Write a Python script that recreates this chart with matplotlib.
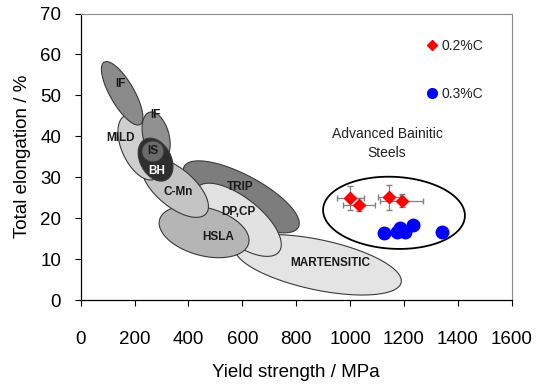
import numpy as np
import matplotlib
matplotlib.use('Agg')
import matplotlib.pyplot as plt
from matplotlib.patches import Polygon
from matplotlib.lines import Line2D

plt.rcParams['font.family'] = ['Liberation Sans', 'DejaVu Sans']

# steel property regions: centre (MPa, %), long/short axis (MPa-equivalent), tilt (deg)
region_names = ['MARTENSITIC', 'TRIP', 'DP,CP', 'HSLA', 'C-Mn', 'MILD', 'IF2', 'BH', 'IS', 'IF1']
region_cx = [881, 596, 584, 458, 350, 220, 280, 278, 268, 154]
region_cy = [8.6, 25.2, 19.6, 16.7, 27.5, 37.3, 40.0, 34.3, 36.3, 50.5]
region_len = [631, 480, 386, 342, 302, 260, 185, 170, 82, 267]
region_wid = [186, 163, 167, 178, 141, 134, 96, 115, 78, 89]
region_ang = [-12, -28, -38, -15, -40, -65, -75, -62, 0, -60]
region_col = ['#e4e4e4', '#7d7d7d', '#e2e2e2', '#b5b5b5', '#c4c4c4',
              '#cfcfcf', '#909090', '#2e2e2e', '#6a6a6a', '#8a8a8a']

# labels for regions
label_text = ['IF', 'IF', 'MILD', 'IS', 'BH', 'C-Mn', 'TRIP', 'DP,CP', 'HSLA', 'MARTENSITIC']
label_x = [146, 276, 146, 268, 283, 361, 591, 584, 510, 925]
label_y = [52.7, 45.1, 39.7, 36.3, 31.6, 26.5, 27.7, 21.6, 15.4, 9.1]
label_col = ['#1a1a1a'] * 4 + ['white'] + ['#1a1a1a'] * 5

# advanced bainitic steels
c02_ys = [1000, 1034, 1144, 1191]
c02_el = [24.9, 23.3, 25.1, 24.3]
c02_xerr = [50, 60, 40, 80]
c02_yerr = [3.0, 1.5, 3.1, 1.5]

c03_ys = [1126, 1173, 1185, 1204, 1235, 1340]
c03_el = [16.3, 16.7, 17.6, 16.7, 18.4, 16.5]
c03_xerr = [20, 20, 20, 20, 20, 15]
c03_yerr = [1.0, 1.0, 1.0, 1.0, 1.0, 0.8]

bainitic_cx, bainitic_cy = 1163, 21.3
bainitic_len, bainitic_wid, bainitic_ang = 527, 267, -3

# visual aspect: MPa per % on screen
k = (0.9494 - 0.1497) * 539 / 1600
k = ((0.9652 - 0.2268) * 388 / 70) / k


def ellipse_pts(cx, cy, L, W, ang):
    t = np.linspace(0, 2 * np.pi, 200)
    u = L / 2 * np.cos(t)
    v = W / 2 * np.sin(t)
    a = np.deg2rad(ang)
    dx = u * np.cos(a) - v * np.sin(a)
    dy = u * np.sin(a) + v * np.cos(a)
    return np.column_stack([cx + dx, cy + dy / k])


fig = plt.figure(figsize=(5.39, 3.88), dpi=100)
ax = fig.add_axes([0.1497, 0.2268, 0.7997, 0.7384])

for i in range(len(region_names)):
    pts = ellipse_pts(region_cx[i], region_cy[i], region_len[i], region_wid[i], region_ang[i])
    ax.add_patch(Polygon(pts, closed=True, facecolor=region_col[i],
                         edgecolor='#3a3a3a', linewidth=0.8, zorder=2 + i * 0.01))

for i in range(len(label_text)):
    ax.text(label_x[i], label_y[i], label_text[i], ha='center', va='center',
            fontsize=8.5, fontweight='bold', color=label_col[i], zorder=3)

pts = ellipse_pts(bainitic_cx, bainitic_cy, bainitic_len, bainitic_wid, bainitic_ang)
ax.add_patch(Polygon(pts, closed=True, facecolor='white', edgecolor='black',
                     linewidth=1.3, zorder=2))
ax.text(1137, 38.3, 'Advanced Bainitic\nSteels', ha='center', va='center',
        fontsize=10, color='#222222', linespacing=1.45, zorder=3)

ax.errorbar(c02_ys, c02_el, xerr=c02_xerr, yerr=c02_yerr, fmt='D', color='red',
            markersize=6.5, ecolor='#808080', elinewidth=0.9, capsize=2.5, zorder=4)
ax.errorbar(c03_ys, c03_el, xerr=c03_xerr, yerr=c03_yerr, fmt='o', color='blue',
            markersize=9, ecolor='#808080', elinewidth=0.9, capsize=2, zorder=4)

handles = [Line2D([], [], marker='D', color='red', linestyle='none', markersize=5.5),
           Line2D([], [], marker='o', color='blue', linestyle='none', markersize=7)]
ax.legend(handles, ['0.2%C', '0.3%C'], loc='upper left', bbox_to_anchor=(0.785, 0.935),
          frameon=False, fontsize=10, labelspacing=2.45, handlelength=0.8,
          handletextpad=0.3, borderpad=0, labelcolor='#222222')

ax.set_xlim(0, 1600)
ax.set_ylim(0, 70)
ax.set_xticks(np.arange(0, 1601, 200))
ax.set_yticks(np.arange(0, 71, 10))
ax.tick_params(axis='both', labelsize=13.5, length=4, width=0.8, colors='black')
ax.tick_params(axis='x', pad=18)
ax.tick_params(axis='y', pad=10)
for s in ['top', 'right']:
    ax.spines[s].set_color('#8a8a8a')
    ax.spines[s].set_linewidth(0.8)
for s in ['left', 'bottom']:
    ax.spines[s].set_linewidth(0.9)

ax.set_xlabel('Yield strength / MPa', fontsize=13.5, labelpad=12)
ax.set_ylabel('Total elongation / %', fontsize=13.5, labelpad=7)

fig.savefig('out.png', dpi=100)
